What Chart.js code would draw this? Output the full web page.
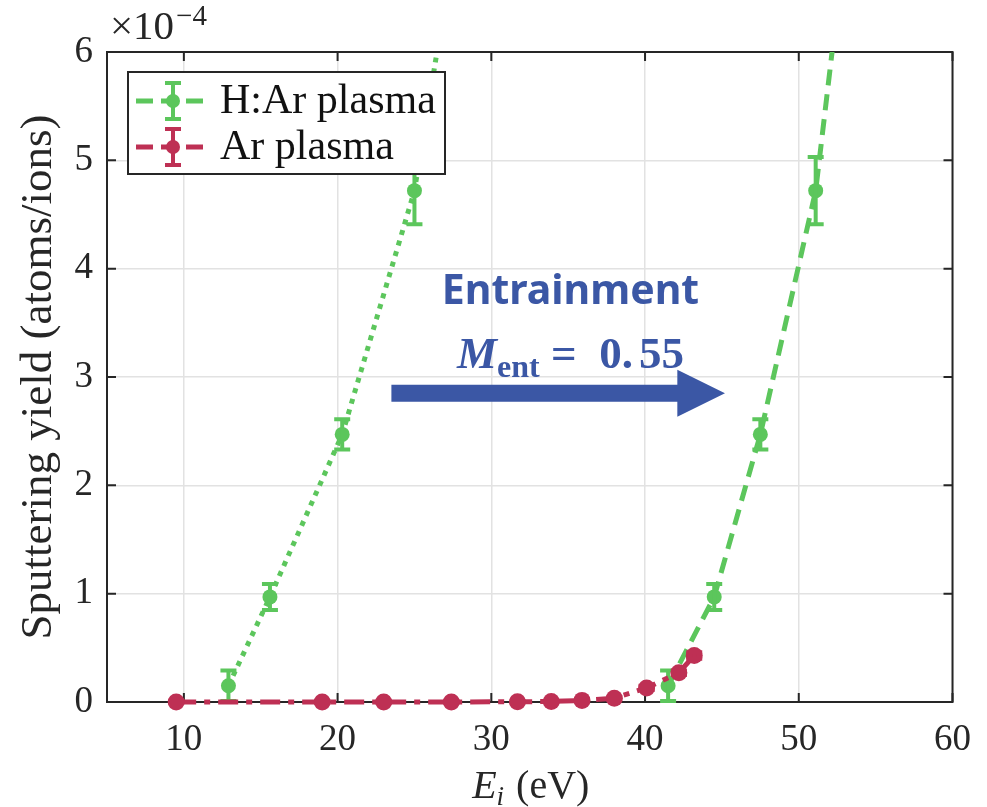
<!DOCTYPE html>
<html>
<head>
<meta charset="utf-8">
<title>Sputtering yield</title>
<script src="https://cdn.jsdelivr.net/npm/chart.js@4.4.0/dist/chart.umd.min.js"></script>
<style>
  html, body { margin: 0; padding: 0; background: #fff; }
</style>
</head>
<body>
<canvas id="yieldChart" width="987" height="807"></canvas>
<script>
// axis ticks
const xTicks = [10, 20, 30, 40, 50, 60];
const yTicks = [0, 1, 2, 3, 4, 5, 6];

// H:Ar plasma, yield in units of 1e-4 atoms/ion (last point runs off the top)
const harEnergy = [41.5, 44.5, 47.5, 51.1, 53.5];
const harYield = [0.15, 0.97, 2.47, 4.72, 7.6];
const harErr = [0.14, 0.12, 0.14, 0.31, 0];

// same curve moved to lower energy by entrainment (M_ent = 0.55)
const entEnergy = [12.9, 15.6, 20.3, 25.0, 28.3];
const entYield = [0.15, 0.97, 2.47, 4.72, 7.6];
const entErr = [0.14, 0.12, 0.14, 0.31, 0];

// Ar plasma
const arEnergy = [9.5, 19.0, 23.0, 27.4, 31.7, 33.9, 35.9, 38.0, 40.1, 42.2, 43.2];
const arYield = [0, 0, 0, 0, 0.002, 0.005, 0.015, 0.035, 0.13, 0.27, 0.43];
const arErr = [0.005, 0.005, 0.005, 0.005, 0.005, 0.005, 0.008, 0.01, 0.02, 0.02, 0.03];

const GREEN = 'rgb(92, 198, 92)';
const RED = 'rgb(190, 48, 84)';
const BLUE = 'rgb(59, 87, 165)';
const INK = '#262626';
const SERIF = '"Liberation Serif", "DejaVu Serif", serif';

// arrow and caption, in data units
const note = { textX: 35.15, titleY: 3.67, mathY: 3.08, arrowFrom: 23.5, arrowHead: 42.1, arrowTip: 45.2, arrowY: 2.85 };

const pts = (xs, ys) => xs.map((x, i) => ({ x: x, y: ys[i] }));

// vertical error bars with caps, drawn right after their dataset
const errorBars = {
  id: 'errorBars',
  afterDatasetDraw(chart, args) {
    const ds = chart.data.datasets[args.index];
    if (!ds.errors) return;
    const { ctx, chartArea, scales: { x, y } } = chart;
    ctx.save();
    ctx.beginPath();
    ctx.rect(chartArea.left, chartArea.top, chartArea.width, chartArea.height + 12);
    ctx.clip();
    ctx.strokeStyle = ds.borderColor;
    ctx.lineWidth = 4;
    ctx.setLineDash([]);
    ds.data.forEach((p, i) => {
      const e = ds.errors[i];
      if (!e) return;
      const px = x.getPixelForValue(p.x);
      const top = y.getPixelForValue(p.y + e);
      const bot = y.getPixelForValue(p.y - e);
      ctx.beginPath();
      ctx.moveTo(px, top); ctx.lineTo(px, bot);
      ctx.moveTo(px - 8, top); ctx.lineTo(px + 8, top);
      ctx.moveTo(px - 8, bot); ctx.lineTo(px + 8, bot);
      ctx.stroke();
    });
    ctx.restore();
  }
};

// box around the plot with inward ticks on all sides
const frame = {
  id: 'frame',
  beforeDatasetsDraw(chart) {
    const { ctx, chartArea: a, scales: { x, y } } = chart;
    ctx.save();
    ctx.strokeStyle = INK;
    ctx.lineWidth = 2;
    ctx.strokeRect(a.left, a.top, a.width, a.height);
    ctx.beginPath();
    xTicks.forEach(v => {
      const px = x.getPixelForValue(v);
      ctx.moveTo(px, a.bottom); ctx.lineTo(px, a.bottom - 9);
      ctx.moveTo(px, a.top); ctx.lineTo(px, a.top + 9);
    });
    yTicks.forEach(v => {
      const py = y.getPixelForValue(v);
      ctx.moveTo(a.left, py); ctx.lineTo(a.left + 9, py);
      ctx.moveTo(a.right, py); ctx.lineTo(a.right - 9, py);
    });
    ctx.stroke();
    ctx.restore();
  }
};

function legendEntry(ctx, x0, yc, color, label) {
  ctx.strokeStyle = color;
  ctx.fillStyle = color;
  ctx.lineWidth = 5;
  ctx.setLineDash([17, 8]);
  ctx.beginPath();
  ctx.moveTo(x0, yc); ctx.lineTo(x0 + 75, yc);
  ctx.stroke();
  ctx.setLineDash([]);
  const mx = x0 + 37;
  ctx.lineWidth = 4;
  ctx.beginPath();
  ctx.moveTo(mx, yc - 18); ctx.lineTo(mx, yc + 18);
  ctx.moveTo(mx - 8, yc - 18); ctx.lineTo(mx + 8, yc - 18);
  ctx.moveTo(mx - 8, yc + 18); ctx.lineTo(mx + 8, yc + 18);
  ctx.stroke();
  ctx.beginPath();
  ctx.arc(mx, yc, 7, 0, Math.PI * 2);
  ctx.fill();
  ctx.fillStyle = '#111';
  ctx.font = 'normal 42px ' + SERIF;
  ctx.textBaseline = 'alphabetic';
  ctx.textAlign = 'left';
  ctx.fillText(label, x0 + 84, yc + 12);
}

const decorations = {
  id: 'decorations',
  afterDraw(chart) {
    const { ctx, chartArea: a, scales: { x, y } } = chart;
    ctx.save();

    // exponent above the y axis
    ctx.fillStyle = INK;
    ctx.textAlign = 'left';
    ctx.textBaseline = 'alphabetic';
    ctx.font = 'normal 41px ' + SERIF;
    ctx.fillText('\u00d710', a.left + 3, 39);
    const w10 = ctx.measureText('\u00d710').width;
    ctx.font = 'normal 29px ' + SERIF;
    ctx.fillText('\u22124', a.left + 5 + w10, 25);

    // x axis title: E_i (eV)
    ctx.font = 'italic 40px ' + SERIF;
    const wE = ctx.measureText('E').width;
    ctx.font = 'italic 27px ' + SERIF;
    const wi = ctx.measureText('i').width;
    ctx.font = 'normal 40px ' + SERIF;
    const wU = ctx.measureText(' (eV)').width;
    let tx = (a.left + a.right) / 2 - (wE + wi + wU) / 2;
    ctx.font = 'italic 40px ' + SERIF;
    ctx.fillText('E', tx, 798);
    tx += wE;
    ctx.font = 'italic 27px ' + SERIF;
    ctx.fillText('i', tx, 805);
    tx += wi + 2;
    ctx.font = 'normal 40px ' + SERIF;
    ctx.fillText(' (eV)', tx, 798);

    // legend
    const lx = a.left + 21, ly = a.top + 20;
    ctx.fillStyle = '#fff';
    ctx.fillRect(lx, ly, 317, 102);
    ctx.strokeStyle = INK;
    ctx.lineWidth = 2;
    ctx.strokeRect(lx, ly, 317, 102);
    legendEntry(ctx, lx + 8, ly + 29, GREEN, 'H:Ar plasma');
    legendEntry(ctx, lx + 8, ly + 75, RED, 'Ar plasma');

    // entrainment caption and arrow
    ctx.fillStyle = BLUE;
    ctx.textAlign = 'center';
    ctx.font = 'bold 41px "Noto Sans", "Open Sans", sans-serif';
    ctx.fillText('Entrainment', x.getPixelForValue(note.textX), y.getPixelForValue(note.titleY));

    ctx.textAlign = 'left';
    const mBase = y.getPixelForValue(note.mathY);
    ctx.font = 'bold italic 45px ' + SERIF;
    const wM = ctx.measureText('M').width;
    ctx.font = 'bold 32px ' + SERIF;
    const wEnt = ctx.measureText('ent').width;
    ctx.font = 'bold 45px ' + SERIF;
    const wEq = ctx.measureText(' =  ').width;
    const wNum = ctx.measureText('0.55').width;
    const gap = 6;
    let mx = x.getPixelForValue(note.textX) - (wM + wEnt + wEq + wNum + gap) / 2;
    ctx.font = 'bold italic 45px ' + SERIF;
    ctx.fillText('M', mx, mBase);
    mx += wM;
    ctx.font = 'bold 32px ' + SERIF;
    ctx.fillText('ent', mx, mBase + 9);
    mx += wEnt;
    ctx.font = 'bold 45px ' + SERIF;
    ctx.fillText(' =  ', mx, mBase);
    mx += wEq;
    // the value is set as in math mode, with a little room after the point
    ctx.fillText('0.', mx, mBase);
    mx += ctx.measureText('0.').width + gap;
    ctx.fillText('55', mx, mBase);

    const ax0 = x.getPixelForValue(note.arrowFrom);
    const axh = x.getPixelForValue(note.arrowHead);
    const axt = x.getPixelForValue(note.arrowTip);
    const ay = y.getPixelForValue(note.arrowY);
    ctx.beginPath();
    ctx.moveTo(ax0, ay - 8.5);
    ctx.lineTo(axh, ay - 8.5);
    ctx.lineTo(axh, ay - 23.5);
    ctx.lineTo(axt, ay);
    ctx.lineTo(axh, ay + 23.5);
    ctx.lineTo(axh, ay + 8.5);
    ctx.lineTo(ax0, ay + 8.5);
    ctx.closePath();
    ctx.fill();

    ctx.restore();
  }
};

const clipArea = { left: 0, top: 0, right: 0, bottom: 12 };

function drawChart() {
  new Chart(document.getElementById('yieldChart').getContext('2d'), {
    type: 'line',
    data: {
      datasets: [
        {
          label: 'Ar plasma',
          data: pts(arEnergy, arYield),
          errors: arErr,
          borderColor: RED,
          backgroundColor: RED,
          borderWidth: 5,
          borderDash: [20, 8, 6, 8],
          pointRadius: 8.5,
          pointBorderWidth: 0,
          clip: clipArea,
          order: 0,
        },
        {
          label: 'H:Ar plasma',
          data: pts(harEnergy, harYield),
          errors: harErr,
          borderColor: GREEN,
          backgroundColor: GREEN,
          borderWidth: 5,
          borderDash: [16, 9],
          pointRadius: 7.5,
          pointBorderWidth: 0,
          clip: clipArea,
          order: 1,
        },
        {
          label: 'H:Ar plasma, entrainment',
          data: pts(entEnergy, entYield),
          errors: entErr,
          borderColor: GREEN,
          backgroundColor: GREEN,
          borderWidth: 5,
          borderDash: [5, 6],
          pointRadius: 7.5,
          pointBorderWidth: 0,
          clip: clipArea,
          order: 2,
        },
      ],
    },
    options: {
      responsive: false,
      animation: false,
      devicePixelRatio: 1,
      font: { family: SERIF },
      layout: { padding: { top: 52, right: 33, left: 0, bottom: 0 } },
      plugins: {
        legend: { display: false },
        tooltip: { enabled: false },
      },
      scales: {
        x: {
          type: 'linear',
          min: 5,
          max: 60,
          afterBuildTicks: (s) => { s.ticks = xTicks.map((v) => ({ value: v })); },
          afterFit: (s) => { s.height = 105; },
          grid: { color: '#e2e2e2', lineWidth: 1.5, drawTicks: false },
          border: { display: false },
          ticks: { font: { family: SERIF, size: 37, style: 'normal' }, color: INK, padding: 16, maxRotation: 0 },
        },
        y: {
          type: 'linear',
          min: 0,
          max: 6,
          afterBuildTicks: (s) => { s.ticks = yTicks.map((v) => ({ value: v })); },
          afterFit: (s) => { s.width = 107; },
          grid: { color: '#e2e2e2', lineWidth: 1.5, drawTicks: false },
          border: { display: false },
          ticks: { font: { family: SERIF, size: 37, style: 'normal' }, color: INK, padding: 14 },
          title: {
            display: true,
            text: 'Sputtering yield (atoms/ions)',
            font: { family: SERIF, size: 45, style: 'normal' },
            color: INK,
            padding: { top: 12, bottom: 0 },
          },
        },
      },
    },
    plugins: [frame, errorBars, decorations],
  });
}

// make sure the serif faces are ready before the canvas text is drawn
Promise.all([
  document.fonts.load('40px "Liberation Serif"'),
  document.fonts.load('italic 40px "Liberation Serif"'),
  document.fonts.load('bold 40px "Liberation Serif"'),
  document.fonts.load('bold 40px "Noto Sans"'),
]).catch(() => {}).then(drawChart);
</script>
</body>
</html>
